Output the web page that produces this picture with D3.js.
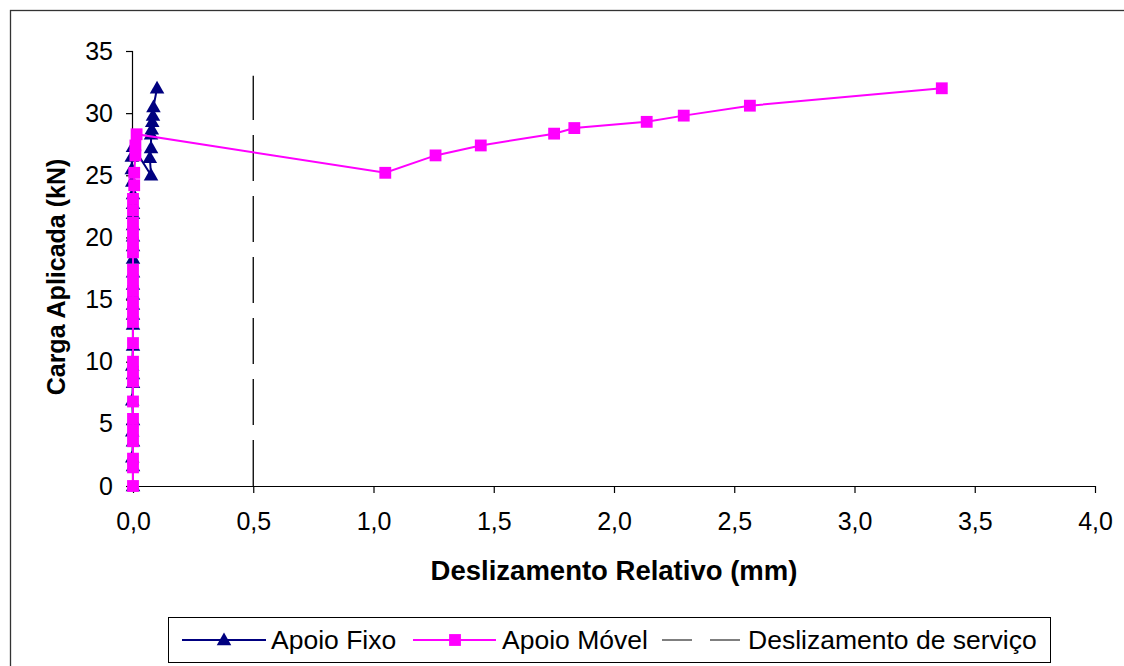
<!DOCTYPE html>
<html><head><meta charset="utf-8">
<script src="https://cdn.jsdelivr.net/npm/d3@7"></script>
<style>
html,body{margin:0;padding:0;background:#fff;}
svg text{font-family:Arial,"Liberation Sans",sans-serif;fill:#000;}
</style></head>
<body><svg id="c" width="1124" height="666"></svg>
<script>
// ---- data ----
const xTicks = [0,0.5,1,1.5,2,2.5,3,3.5,4];
const yTicks = [0,5,10,15,20,25,30,35];
const fixoX = [0,0,-0.003,0,-0.003,0,-0.003,0,0,-0.003,0,0,0,0,0,0,0,0,0,0,0,0,0,0,-0.003,-0.005,-0.005,0,0.075,0.07,0.075,0.075,0.078,0.08,0.083,0.085,0.1];
const fixoY = [0,1.6,2.3,3.6,4.4,5.3,6.9,8.3,9.0,9.7,11.3,13.0,13.8,14.6,15.4,16.2,17.2,18.3,19.3,20.1,21.0,21.9,22.7,23.5,24.5,25.5,26.5,27.3,25.0,26.4,27.2,28.3,28.7,29.3,29.8,30.5,32.0];
const movelX = [0,0,0,0,0,0,0,0,0,0,0,0,0,0,0,0,0,0,0,0,0,0,0,0.005,0.005,0.01,0.01,0.015,1.049,1.258,1.446,1.751,1.835,2.136,2.29,2.565,3.363];
const movelY = [0,1.5,2.2,3.6,4.5,5.4,6.8,8.4,9.2,10.0,11.5,13.2,14.0,14.8,15.7,16.5,17.4,18.8,19.6,20.4,21.2,22.2,23.1,24.2,25.2,26.6,27.4,28.3,25.2,26.6,27.4,28.35,28.8,29.3,29.8,30.6,32.0];
const servicoX = [0.5,0.5];
const servicoY = [0,33];
const seriesNames = ["Apoio Fixo","Apoio Móvel","Deslizamento de serviço"];
const xTitle = "Deslizamento Relativo (mm)";
const yTitle = "Carga Aplicada (kN)";

// ---- drawing ----
const svg = d3.select("#c");
const L=133,R=1095,T=51,B=486;
const x = d3.scaleLinear().domain([0,4]).range([L,R]);
const y = d3.scaleLinear().domain([0,35]).range([B,T]);
const fmt = d => d3.format(".1f")(d).replace(".",",");

svg.append("rect").attr("x",10.5).attr("y",10.5).attr("width",1200).attr("height",800)
  .attr("fill","none").attr("stroke","#333").attr("stroke-width",1.3);

const gx = svg.append("g").attr("transform",`translate(0,${B})`)
  .call(d3.axisBottom(x).tickValues(xTicks).tickSize(7).tickPadding(19).tickFormat(fmt));
const gy = svg.append("g").attr("transform",`translate(${L},0)`)
  .call(d3.axisLeft(y).tickValues(yTicks).tickSize(7).tickPadding(13).tickFormat(d3.format("d")));
[gx,gy].forEach(g=>{
  g.select(".domain").attr("stroke","#000").attr("stroke-width",1.2);
  g.selectAll(".tick line").attr("stroke","#000").attr("stroke-width",1.2);
  g.selectAll("text").attr("font-size",25).attr("font-family","Arial, 'Liberation Sans', sans-serif");
});
gx.select(".domain").attr("d",`M${L},0.5H${R}`);
gy.select(".domain").attr("d",`M-0.5,${B}V${T}`);

svg.append("text").attr("x",(L+R)/2).attr("y",580).attr("text-anchor","middle")
  .attr("font-size",27.5).attr("font-weight","bold").text(xTitle);
svg.append("text").attr("transform",`translate(65,277) rotate(-90)`).attr("text-anchor","middle")
  .attr("font-size",25).attr("font-weight","bold").text(yTitle);

// service line
svg.append("line").attr("x1",x(servicoX[0])).attr("x2",x(servicoX[1]))
  .attr("y1",y(servicoY[0])).attr("y2",y(servicoY[1]))
  .attr("stroke","#000").attr("stroke-width",1.3).attr("stroke-dasharray","46,15");

const fixo = fixoX.map((v,i)=>[v,fixoY[i]]);
const movel = movelX.map((v,i)=>[v,movelY[i]]);
const line = d3.line().x(d=>x(d[0])).y(d=>y(d[1]));
const tri = d3.symbol().type(d3.symbolTriangle).size(92);
const sq = d3.symbol().type(d3.symbolSquare).size(140);

svg.append("path").attr("d",line(fixo)).attr("fill","none").attr("stroke","#000080").attr("stroke-width",2);
svg.selectAll(".tri").data(fixo).enter().append("path")
  .attr("d",tri).attr("transform",d=>`translate(${x(d[0])},${y(d[1])+1})`).attr("fill","#000080");
svg.append("path").attr("d",line(movel)).attr("fill","none").attr("stroke","#FF00FF").attr("stroke-width",2);
svg.selectAll(".sq").data(movel).enter().append("path")
  .attr("d",sq).attr("transform",d=>`translate(${x(d[0])},${y(d[1])})`).attr("fill","#FF00FF");

// legend
const lg = svg.append("g");
lg.append("rect").attr("x",168.5).attr("y",617.5).attr("width",882).attr("height",45)
  .attr("fill","#fff").attr("stroke","#000").attr("stroke-width",1);
const ly = 640;
lg.append("line").attr("x1",182).attr("x2",266).attr("y1",ly).attr("y2",ly).attr("stroke","#000080").attr("stroke-width",2);
lg.append("path").attr("d",tri).attr("transform",`translate(224,${ly+1})`).attr("fill","#000080");
lg.append("text").attr("x",271).attr("y",ly+9).attr("font-size",26.5).text(seriesNames[0]);
lg.append("line").attr("x1",413).attr("x2",496).attr("y1",ly).attr("y2",ly).attr("stroke","#FF00FF").attr("stroke-width",2);
lg.append("path").attr("d",sq).attr("transform",`translate(455,${ly})`).attr("fill","#FF00FF");
lg.append("text").attr("x",502).attr("y",ly+9).attr("font-size",26.5).text(seriesNames[1]);
lg.append("line").attr("x1",662).attr("x2",740).attr("y1",ly).attr("y2",ly).attr("stroke","#000").attr("stroke-width",1.2).attr("stroke-dasharray","30,18");
lg.append("text").attr("x",748).attr("y",ly+9).attr("font-size",26.5).text(seriesNames[2]);
</script></body></html>
